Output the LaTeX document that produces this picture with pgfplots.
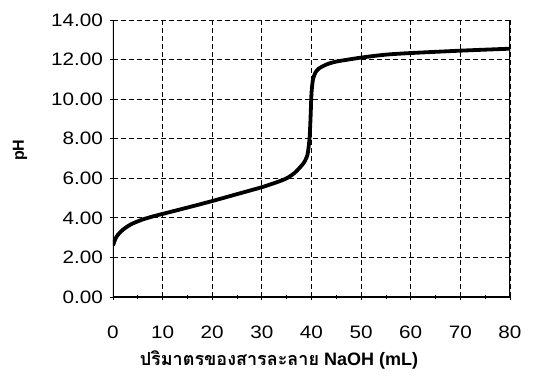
\documentclass[border=0pt]{standalone}
\usepackage{pgfplots}
\pgfplotsset{compat=1.18}
\usepackage{fontspec}
\setmainfont{Liberation Sans}
\newfontfamily\tickfont[FakeStretch=1.15]{Liberation Sans}
\newfontfamily\thaifont[Script=Thai]{Loma}
\begin{document}
\begin{tikzpicture}
\useasboundingbox (-113pt,-81pt) rectangle (425pt,297pt);
\begin{axis}[
  scale only axis, width=397pt, height=277pt,
  at={(0pt,0pt)}, anchor=south west,
  xmin=0, xmax=80, ymin=0, ymax=14,
  xtick={0,10,...,80}, ytick={0,2,...,14},
  minor xtick={5,15,...,75},
  grid=major,
  major grid style={black, dashed, line width=0.9pt, dash pattern=on 5pt off 3pt},
  axis line style={draw=none},
  tick style={black, line width=0.8pt},
  major tick length=5pt, minor tick length=4pt,
  tick align=center,
  xtick pos=bottom, ytick pos=left,
  /pgf/number format/assume math mode=true,
  y tick label style={/pgf/number format/fixed, /pgf/number format/fixed zerofill, /pgf/number format/precision=2, xshift=-4pt},
  ticklabel style={font=\tickfont\fontsize{18}{20}\selectfont},
  x tick label style={anchor=center, yshift=-33pt},
  xlabel={{\thaifont\bfseries ปริมาตรของสารละลาย} \textbf{NaOH (mL)}},
  xlabel style={font=\fontsize{18}{20}\selectfont, at={(axis description cs:0.418,-0.227)}, anchor=center},
  ylabel={\textbf{pH}},
  ylabel style={font=\fontsize{16}{18}\selectfont, at={(axis description cs:-0.234,0.53)}, anchor=center},
]
\addplot[black, line width=3.8pt, smooth, tension=0.4] coordinates {
(0,2.6) (0.5,2.95) (1,3.15) (2,3.4) (3,3.58) (4,3.72) (6,3.92) (8,4.07) (10,4.2)
(15,4.52) (20,4.85) (25,5.2) (30,5.55) (33,5.8) (35,6.0) (36.5,6.25) (37.5,6.5)
(38.5,6.8) (39.2,7.2) (39.6,8.0) (39.8,9.0) (40,10.3) (40.3,11.0) (40.8,11.35)
(41.5,11.55) (43,11.75) (45,11.9) (50,12.1) (55,12.25) (60,12.33) (70,12.45) (80,12.55)
};
\draw[black, line width=1.3pt] (rel axis cs:0,1) -- (rel axis cs:0,0) -- (rel axis cs:1,0) -- (rel axis cs:1,1);
\end{axis}
\end{tikzpicture}
\end{document}
